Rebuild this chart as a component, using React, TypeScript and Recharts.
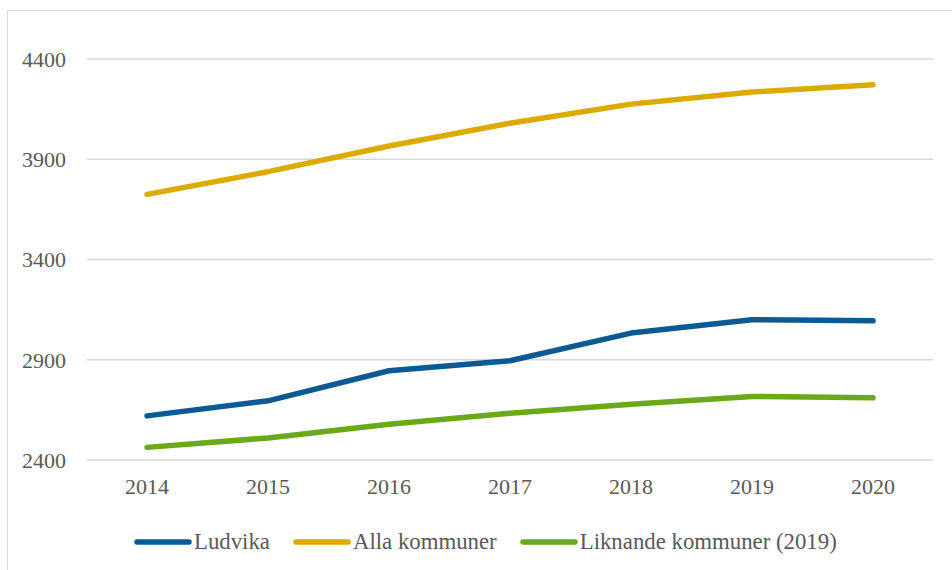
import React from 'react';
import { LineChart, Line, XAxis, YAxis, CartesianGrid } from 'recharts';

const years = ['2014', '2015', '2016', '2017', '2018', '2019', '2020'];
const ludvika = [2620, 2695, 2845, 2895, 3033, 3100, 3094];
const allaKommuner = [3725, 3838, 3966, 4080, 4175, 4235, 4272];
const liknande = [2463, 2510, 2578, 2633, 2678, 2717, 2710];
const yTicks = [2400, 2900, 3400, 3900, 4400];

const seriesInfo = [
  { key: 'ludvika', name: 'Ludvika', color: '#0b5a91' },
  { key: 'alla', name: 'Alla kommuner', color: '#dcab00' },
  { key: 'liknande', name: 'Liknande kommuner (2019)', color: '#6aa917' },
];

const data = years.map((y, i) => ({
  year: y,
  ludvika: ludvika[i],
  alla: allaKommuner[i],
  liknande: liknande[i],
}));

const FONT = "'Liberation Serif', 'Times New Roman', serif";
const TEXT = '#595959';

export default function App() {
  return (
    <div style={{ position: 'absolute', left: 0, top: 0, width: 952, height: 570, overflow: 'hidden', background: '#fff', fontFamily: FONT }}>
      <div style={{ position: 'absolute', left: 7, top: 10, width: 1000, height: 700, border: '1.5px solid #d9d9d9', boxSizing: 'border-box' }} />
      <div style={{ position: 'absolute', left: 0, top: 0 }}>
        <LineChart width={952} height={570} data={data} margin={{ top: 59, right: 19, bottom: 70, left: 0 }}>
          <CartesianGrid vertical={false} stroke="#d9d9d9" strokeWidth={1.5} />
          <XAxis
            dataKey="year"
            axisLine={false}
            tickLine={false}
            height={40}
            tickMargin={12}
            padding={{ left: 60, right: 60 }}
            tick={{ fill: TEXT, fontSize: 22, fontFamily: FONT }}
          />
          <YAxis
            domain={[2400, 4400]}
            ticks={yTicks}
            axisLine={false}
            tickLine={false}
            width={87}
            tickMargin={15}
            tick={{ fill: TEXT, fontSize: 22, fontFamily: FONT }}
          />
          {seriesInfo.map((s) => (
            <Line
              key={s.key}
              type="linear"
              dataKey={s.key}
              name={s.name}
              stroke={s.color}
              strokeWidth={5.5}
              strokeLinecap="round"
              strokeLinejoin="round"
              dot={false}
              activeDot={false}
              isAnimationActive={false}
            />
          ))}
        </LineChart>
      </div>
      <div style={{ position: 'absolute', left: 133, top: 529, display: 'flex', alignItems: 'center', fontSize: 22.8, color: TEXT, fontFamily: FONT }}>
        {seriesInfo.map((s) => (
          <div key={s.key} style={{ display: 'flex', alignItems: 'center', marginRight: 22 }}>
            <svg width={60} height={10} style={{ marginRight: 1 }}>
              <line x1={4} y1={5} x2={56} y2={5} stroke={s.color} strokeWidth={5.5} strokeLinecap="round" />
            </svg>
            <span style={{ whiteSpace: 'nowrap' }}>{s.name}</span>
          </div>
        ))}
      </div>
    </div>
  );
}
